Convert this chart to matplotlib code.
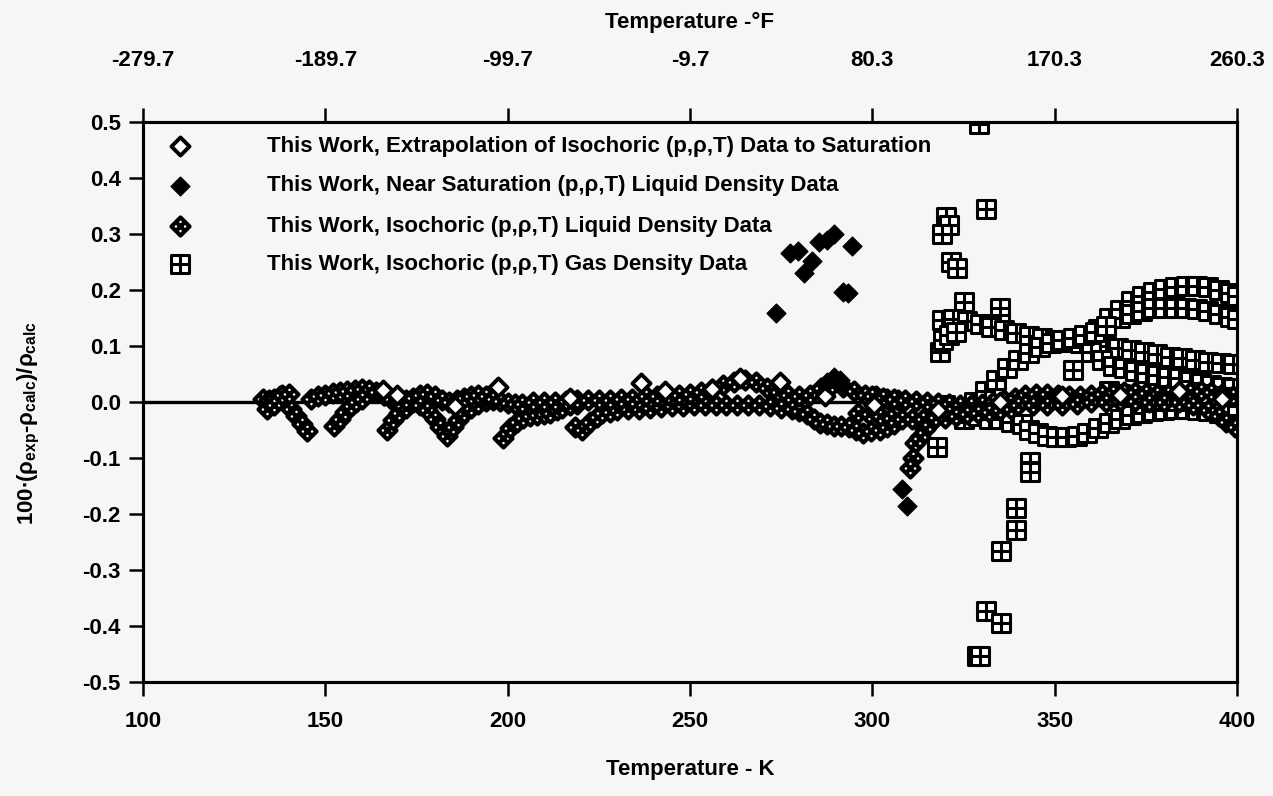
import matplotlib
matplotlib.use('Agg')
import matplotlib.pyplot as plt
import numpy as np
from matplotlib.path import Path

plt.rcParams['font.family'] = ['Liberation Sans', 'DejaVu Sans']
plt.rcParams['font.weight'] = 'bold'
plt.rcParams['mathtext.fontset'] = 'custom'
plt.rcParams['mathtext.rm'] = 'Liberation Sans:bold'
plt.rcParams['mathtext.default'] = 'rm'

# --- data: T in K, 100*(rho_exp - rho_calc)/rho_calc ---

# open diamonds: extrapolation of isochoric data to saturation
sat_T = [165.9, 169.6, 185.6, 197.3, 217.1, 236.6, 243.1, 256.0, 263.7, 274.7,
         287.0, 300.5, 318.0, 335.0, 352.0, 368.0, 384.0, 396.0]
sat_dev = [0.021, 0.012, -0.008, 0.027, 0.007, 0.034, 0.020, 0.024, 0.043, 0.036,
           0.010, -0.005, -0.015, 0.000, 0.010, 0.012, 0.020, 0.005]

# filled diamonds: near saturation liquid density
nsat_T = [273.6, 277.4, 279.5, 281.3, 283.5, 285.5, 287.5, 289.5, 291.0, 292.0,
          293.3, 294.5, 287.5, 289.5, 291.5, 308.0, 309.5]
nsat_dev = [0.159, 0.266, 0.270, 0.230, 0.252, 0.285, 0.290, 0.300, 0.040, 0.197,
            0.195, 0.278, 0.035, 0.045, 0.030, -0.155, -0.185]

# dotted diamonds: isochoric liquid density, one list pair per strand
liq_T_1 = [133, 134.5, 136, 137.5, 139, 140.5, 142, 143.5, 145]
liq_d_1 = [0.005, 0.004, 0.006, 0.010, 0.000, -0.012, -0.025, -0.040, -0.052]
liq_T_2 = [134, 136, 138, 140]
liq_d_2 = [-0.012, -0.005, 0.012, 0.015]
liq_T_3 = [146, 148, 150, 152, 154, 156, 158, 160, 162, 164, 166]
liq_d_3 = [0.006, 0.010, 0.013, 0.016, 0.018, 0.020, 0.022, 0.024, 0.022, 0.018, 0.012]
liq_T_4 = [152.5, 154, 155.5, 157, 158.5, 160]
liq_d_4 = [-0.042, -0.030, -0.018, -0.008, 0.000, 0.006]
liq_T_5 = [167, 168.6, 170.2, 172, 174, 176, 178, 180]
liq_d_5 = [-0.050, -0.033, -0.020, -0.010, 0.000, 0.006, 0.010, 0.008]
liq_T_6 = [166, 168, 170, 172, 174, 176, 178, 180, 182]
liq_d_6 = [0.012, 0.006, 0.002, 0.004, 0.008, 0.012, 0.014, 0.010, 0.004]
liq_T_7 = [176, 178, 180, 181.5, 183.3, 185, 186.5, 188, 190, 192, 194, 196]
liq_d_7 = [-0.005, -0.015, -0.030, -0.044, -0.060, -0.044, -0.032, -0.020, -0.010, -0.003, 0.002, 0.004]
liq_T_8 = [184, 186, 188, 190, 192, 194, 196, 198, 200, 202]
liq_d_8 = [0.000, 0.004, 0.008, 0.010, 0.012, 0.010, 0.006, 0.002, -0.002, -0.004]
liq_T_9 = [198.8, 200.6, 202.5, 204.3, 206, 208, 210, 211.6, 213.4, 215, 217, 219]
liq_d_9 = [-0.064, -0.046, -0.036, -0.028, -0.025, -0.023, -0.021, -0.019, -0.014, -0.010, -0.006, -0.003]
liq_T_10 = [218.5, 220.5, 222.6, 224.5, 226, 228, 230, 233, 236, 239, 242, 245,
            248, 251, 254, 257, 260, 263, 266, 269, 272, 275, 278]
liq_d_10 = [-0.044, -0.050, -0.035, -0.027, -0.020, -0.017, -0.014, -0.013, -0.012, -0.011, -0.009, -0.008,
            -0.007, -0.006, -0.005, -0.005, -0.005, -0.005, -0.005, -0.006, -0.008, -0.010, -0.013]
liq_T_11 = [280, 282, 284, 285.6, 287.5, 289.5, 291.5, 293.5, 295.5, 297.5, 299.5, 302, 304, 306]
liq_d_11 = [-0.016, -0.022, -0.030, -0.038, -0.040, -0.042, -0.043, -0.044, -0.050, -0.056, -0.052, -0.050, -0.045, -0.040]
liq_T_12 = [204, 207, 210, 213, 216, 219, 222, 225, 228, 231, 234, 238, 241, 244, 247, 250, 253, 256,
            259, 262, 265, 268, 271, 274, 277, 280, 283, 286, 289, 292, 295, 298, 301, 304, 307]
liq_d_12 = [-0.003, 0.000, 0.000, 0.000, 0.002, 0.003, 0.004, 0.004, 0.004, 0.005, 0.006, 0.010, 0.011, 0.012, 0.012, 0.014, 0.018, 0.024,
            0.030, 0.036, 0.040, 0.035, 0.025, 0.018, 0.012, 0.010, 0.012, 0.025, 0.030, 0.027, 0.020, 0.012, 0.010, 0.006, 0.004]
liq_T_13 = [300, 303, 306, 309, 312, 315, 318, 321, 324, 327, 330, 333, 336, 339, 342, 345, 348,
            351, 354, 357, 360, 363, 366, 369, 372, 375, 378, 381, 384, 387, 390, 393, 396, 399]
liq_d_13 = [0.010, 0.008, 0.006, 0.004, 0.002, 0.000, -0.002, -0.004, -0.006, -0.005, -0.003, 0.000, 0.004, 0.008, 0.012, 0.014, 0.014,
            0.012, 0.010, 0.010, 0.012, 0.014, 0.016, 0.018, 0.018, 0.016, 0.014, 0.014, 0.016, 0.018, 0.020, 0.018, 0.014, 0.010]
liq_T_14 = [296, 299, 302, 305, 308, 311, 314, 317, 320, 323, 326, 329, 332, 335, 338]
liq_d_14 = [-0.020, -0.022, -0.025, -0.028, -0.030, -0.030, -0.030, -0.030, -0.028, -0.025, -0.022, -0.020, -0.018, -0.015, -0.012]
liq_T_15 = [340, 344, 348, 352, 356, 360, 364, 368, 372, 376, 380, 384, 388, 392, 395, 397, 399.5]
liq_d_15 = [-0.005, -0.006, -0.006, -0.005, -0.003, 0.000, 0.000, 0.002, 0.002, 0.000, 0.000, 0.000, -0.005, -0.015, -0.025, -0.035, -0.045]
liq_T_16 = [316, 314.5, 313, 311.7, 311.2, 310.3]
liq_d_16 = [-0.035, -0.048, -0.062, -0.073, -0.100, -0.118]

# squares with cross: isochoric gas density
gas_T_iso = [329.3, 331.3, 320.2, 320.9, 319.0, 321.7, 323.1, 325.1, 335.0, 335.0, 355.0,
             317.6, 343.2, 343.2, 339.4, 339.4, 335.2, 331.2, 335.2, 328.6, 329.6]
gas_d_iso = [0.496, 0.344, 0.330, 0.316, 0.300, 0.250, 0.239, 0.179, 0.167, 0.140, 0.057,
             -0.080, -0.107, -0.125, -0.190, -0.228, -0.266, -0.373, -0.394, -0.454, -0.454]
gas_T_top = [362, 365, 368, 371, 374, 377, 380, 383, 386, 389, 392, 395, 398, 400]
gas_d_top = [0.130, 0.150, 0.165, 0.180, 0.190, 0.197, 0.202, 0.205, 0.207, 0.207, 0.205, 0.200, 0.195, 0.190]
gas_T_top2 = [368, 371, 374, 377, 380, 383, 386, 389, 392, 395, 398, 400]
gas_d_top2 = [0.150, 0.158, 0.163, 0.167, 0.168, 0.168, 0.168, 0.166, 0.163, 0.158, 0.152, 0.148]
gas_T_desc = [319, 322, 326, 329.5, 332.5, 336, 339.5, 343, 346.5, 350, 353.5, 357, 360.5, 364,
              367.5, 371, 374.5, 378, 381.5, 385, 388.5, 392, 395.5, 399]
gas_d_desc = [0.146, 0.148, 0.145, 0.140, 0.134, 0.129, 0.124, 0.118, 0.114, 0.110, 0.107, 0.105, 0.103, 0.100,
              0.097, 0.093, 0.089, 0.085, 0.081, 0.078, 0.075, 0.072, 0.070, 0.068]
gas_T_low = [360, 363, 366, 369, 372, 375, 378, 381, 384, 387, 390, 393, 396, 399]
gas_d_low = [0.090, 0.075, 0.065, 0.060, 0.055, 0.052, 0.048, 0.045, 0.042, 0.038, 0.034, 0.030, 0.027, 0.025]
gas_T_rise = [318.5, 319.5, 321, 323, 325, 328, 331, 334, 337, 340, 343, 346, 349, 352, 355, 358, 361, 364]
gas_d_rise = [0.090, 0.110, 0.120, 0.125, -0.030, 0.000, 0.020, 0.040, 0.060, 0.075, 0.088, 0.098, 0.105, 0.110, 0.115, 0.120, 0.125, 0.135]
gas_T_neg = [320, 323, 326, 329, 332, 335, 338, 341, 343, 345.5, 348, 350.5, 353, 356, 359, 362, 365,
             368, 371, 374, 377, 380, 383, 386, 389, 392, 395, 398]
gas_d_neg = [-0.005, -0.015, -0.020, -0.025, -0.030, -0.030, -0.035, -0.040, -0.050, -0.056, -0.060, -0.062, -0.062, -0.060, -0.055, -0.047, -0.038,
             -0.030, -0.024, -0.020, -0.016, -0.014, -0.013, -0.013, -0.014, -0.016, -0.020, -0.026]
gas_T_mid = [365, 368, 371, 374, 377, 380, 383, 386, 389, 392, 395, 398, 400]
gas_d_mid = [0.020, 0.015, 0.010, 0.008, 0.005, 0.003, 0.002, 0.002, 0.000, -0.002, -0.004, -0.006, -0.008]

k_ticks = [100, 150, 200, 250, 300, 350, 400]
f_labels = ['-279.7', '-189.7', '-99.7', '-9.7', '80.3', '170.3', '260.3']
y_ticks = [-0.5, -0.4, -0.3, -0.2, -0.1, 0.0, 0.1, 0.2, 0.3, 0.4, 0.5]

legend_labels = ['This Work, Extrapolation of Isochoric (p,\u03c1,T) Data to Saturation',
                 'This Work, Near Saturation (p,\u03c1,T) Liquid Density Data',
                 'This Work, Isochoric (p,\u03c1,T) Liquid Density Data',
                 'This Work, Isochoric (p,\u03c1,T) Gas Density Data']

liq_T = (liq_T_1 + liq_T_2 + liq_T_3 + liq_T_4 + liq_T_5 + liq_T_6 + liq_T_7 + liq_T_8 +
         liq_T_9 + liq_T_10 + liq_T_11 + liq_T_12 + liq_T_13 + liq_T_14 + liq_T_15 + liq_T_16)
liq_dev = (liq_d_1 + liq_d_2 + liq_d_3 + liq_d_4 + liq_d_5 + liq_d_6 + liq_d_7 + liq_d_8 +
           liq_d_9 + liq_d_10 + liq_d_11 + liq_d_12 + liq_d_13 + liq_d_14 + liq_d_15 + liq_d_16)
gas_T = gas_T_iso + gas_T_top + gas_T_top2 + gas_T_desc + gas_T_low + gas_T_rise + gas_T_neg + gas_T_mid
gas_dev = gas_d_iso + gas_d_top + gas_d_top2 + gas_d_desc + gas_d_low + gas_d_rise + gas_d_neg + gas_d_mid

# marker shapes
M, L, C = Path.MOVETO, Path.LINETO, Path.CLOSEPOLY
diamond = Path([(0, 1), (1, 0), (0, -1), (-1, 0), (0, 1)], [M, L, L, L, C])
diamond_x = Path([(0, 1), (1, 0), (0, -1), (-1, 0), (0, 1),
                  (-0.5, 0.5), (0.5, -0.5), (0.5, 0.5), (-0.5, -0.5)],
                 [M, L, L, L, C, M, L, M, L])
square_x = Path([(-1, -1), (1, -1), (1, 1), (-1, 1), (-1, -1),
                 (0, -1), (0, 1), (-1, 0), (1, 0)],
                [M, L, L, L, C, M, L, M, L])

bg = '#f6f6f6'
fs = 16
fig = plt.figure(figsize=(12.73, 7.96), dpi=100, facecolor=bg)
ax = fig.add_axes([143 / 1273, 1 - 682 / 796, 1094 / 1273, 560 / 796], facecolor=bg)

ax.axhline(0, color='black', lw=2.4, zorder=1)

styles = [
    dict(marker=diamond, ms=13, mfc='white', mec='black', mew=2.8),
    dict(marker=diamond, ms=13.5, mfc='black', mec='black', mew=1),
    dict(marker=diamond_x, ms=13, mfc='white', mec='black', mew=3.0),
    dict(marker=square_x, ms=13, mfc='white', mec='black', mew=2.2),
]

ax.plot(gas_T, gas_dev, ls='none', zorder=2, **styles[3])
ax.plot(liq_T, liq_dev, ls='none', zorder=3, **styles[2])
ax.plot(sat_T, sat_dev, ls='none', zorder=4, **styles[0])
ax.plot(nsat_T, nsat_dev, ls='none', zorder=5, **styles[1])

# hand-placed legend like the original
row_y = [0.957, 0.886, 0.814, 0.746]
for st, lab, yy in zip(styles, legend_labels, row_y):
    ax.plot([0.0334], [yy], transform=ax.transAxes, ls='none', clip_on=False, zorder=6, **st)
    ax.text(0.1133, yy, lab, transform=ax.transAxes, va='center', ha='left',
            fontsize=fs, fontweight='bold')

ax.set_xlim(100, 400)
ax.set_ylim(-0.5, 0.5)
ax.set_xticks(k_ticks)
ax.set_xticklabels([str(k) for k in k_ticks])
ax.set_yticks(y_ticks)
ax.set_yticklabels(['%.1f' % v for v in y_ticks])
ax.tick_params(direction='out', length=10, width=1.8, labelsize=fs, pad=11, axis='x')
ax.tick_params(direction='out', length=10, width=1.8, labelsize=fs, pad=6, axis='y')
for s in ax.spines.values():
    s.set_linewidth(2.2)

ax2 = ax.twiny()
ax2.set_xlim(100, 400)
ax2.set_xticks(k_ticks)
ax2.set_xticklabels(f_labels)
ax2.tick_params(direction='out', length=10, width=1.8, labelsize=fs, pad=27)
for s in ax2.spines.values():
    s.set_linewidth(2.2)

fig.text(0.542, 0.0327, 'Temperature - K', ha='center', va='center', fontsize=fs, fontweight='bold')
fig.text(0.542, 0.972, 'Temperature -\u00b0F', ha='center', va='center', fontsize=fs, fontweight='bold')
fig.text(0.023, 0.469, r'100$\bullet$($\rho_{exp}$-$\rho_{calc}$)/$\rho_{calc}$', rotation=90,
         ha='center', va='center', fontsize=fs, fontweight='bold')

fig.savefig('out.png', dpi=100, facecolor=bg)
